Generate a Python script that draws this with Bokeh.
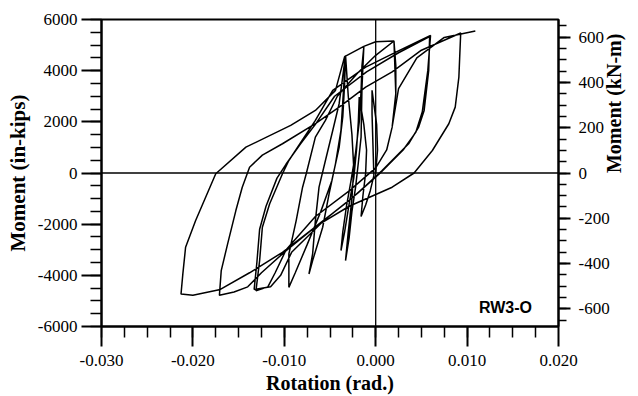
import math
from bokeh.plotting import figure
from bokeh.models import Range1d, LinearAxis, FixedTicker, CustomJSTickFormatter, Span, Label
from bokeh.embed import file_html
from bokeh.resources import INLINE

# ---- data: rotation (rad) and moment (in-kips), cycle by cycle ----
rot_c1 = [0.0, 0.0002, 0.0001, -0.0002, -0.0004, -0.0004, -0.0003, -0.0002, -0.0006, -0.0011, -0.0016,
          -0.0014, -0.0011, -0.0010, -0.0013, -0.0018]
mom_c1 = [0, 900, 1900, 2700, 3230, 2300, 1100, -100, -700, -1250, -1700,
          -900, 0, 900, 1900, 2970]

rot_c2 = [-0.0019, -0.0021, -0.0024, -0.0029, -0.0034, -0.0038,
          -0.0036, -0.0032, -0.0027, -0.0022, -0.0018, -0.0016, -0.0015, -0.0013]
mom_c2 = [2000, 900, -200, -1200, -2300, -3030,
          -2300, -1300, -300, 800, 2000, 3200, 4200, 4925]

rot_c3 = [-0.0015, -0.0016, -0.0019, -0.0022, -0.0026, -0.0029, -0.0033,
          -0.0030, -0.0026, -0.0024, -0.0026, -0.0030, -0.0033]
mom_c3 = [3358, 1400, 400, -555, -1500, -2512, -3425,
          -2300, -1000, 200, 1500, 3000, 4600]

rot_c4 = [-0.0035, -0.0038, -0.0044, -0.0051, -0.0058, -0.0069, -0.0073,
          -0.0069, -0.0066, -0.0062, -0.0055, -0.0047, -0.0040, -0.0033]
mom_c4 = [3358, 1663, 360, -815, -2120, -3425, -3945,
          -3160, -1860, -555, 489, 1663, 2708, 4600]

rot_c5 = [-0.0034, -0.0036, -0.0040, -0.0048, -0.0060, -0.0075, -0.0088, -0.0095,
          -0.0095, -0.0087, -0.0080, -0.0076, -0.0066, -0.0055, -0.0042, -0.0020, 0.0000, 0.0020]
mom_c5 = [3500, 2200, 1000, -300, -1500, -2800, -3900, -4470,
          -3160, -1860, -555, -31, 1400, 2055, 3000, 3900, 4600, 5160]

rot_c6 = [0.0022, 0.0022, 0.0018, 0.0012, 0.0000, -0.0029, -0.0066, -0.0098, -0.0110, -0.0118, -0.0131,
          -0.0127, -0.0124, -0.0116, -0.0102, -0.0095, -0.0080, -0.0066, -0.0047, -0.0011, 0.0026, 0.0060]
mom_c6 = [4200, 3100, 1793, 900, 200, -700, -1700, -3000, -3900, -4450, -4600,
          -3425, -2120, -1205, -31, 489, 1300, 2055, 3230, 4140, 4795, 5380]

rot_c6b = [0.0057, 0.0051, 0.0044, 0.0030, 0.0005, -0.0020, -0.0055, -0.0092, -0.0104, -0.0115, -0.0133,
           -0.0130, -0.0127, -0.0120, -0.0108, -0.0098, -0.0082, -0.0066, -0.0045, -0.0010, 0.0025, 0.0059]
mom_c6b = [4000, 2400, 1600, 900, 0, -800, -1800, -3100, -4000, -4450, -4550,
           -3500, -2200, -1300, -200, 350, 1150, 1900, 3000, 3950, 4700, 5330]

rot_c7 = [0.0058, 0.0053, 0.0047, 0.0036, 0.0007, -0.0011, -0.0029, -0.0062, -0.0098, -0.0125, -0.0140, -0.0155, -0.0171,
          -0.0169, -0.0162, -0.0153, -0.0146, -0.0138, -0.0124, -0.0102, -0.0066, -0.0040, -0.0011, 0.0018, 0.0050, 0.0093]
mom_c7 = [4010, 2446, 1793, 1143, 98, -500, -1076, -1990, -3033, -3900, -4450, -4650, -4780,
          -3815, -2770, -1468, -555, 227, 700, 1143, 1926, 2575, 3358, 3950, 4800, 5470]

rot_c8 = [0.0091, 0.0087, 0.0080, 0.0062, 0.0042, 0.0018, -0.0029, -0.0066, -0.0102, -0.0138, -0.0170, -0.0200, -0.0213,
          -0.0211, -0.0208, -0.0197, -0.0175, -0.0142, -0.0093, -0.0066, -0.0044, -0.0034, -0.0013, 0.0000, 0.0020,
          0.0022, 0.0018, 0.0025, 0.0045, 0.0075, 0.0109]
mom_c8 = [3750, 2575, 1925, 880, 0, -555, -1300, -2100, -3100, -3900, -4550, -4780, -4730,
          -3945, -2904, -1859, -31, 1010, 1860, 2446, 3230, 4550, 4950, 5130, 5160,
          3100, 1800, 3300, 4500, 5300, 5550]

x_ticks = [-0.030, -0.020, -0.010, 0.000, 0.010, 0.020]
y_ticks = [-6000, -4000, -2000, 0, 2000, 4000, 6000]
knm_ticks = [-600, -400, -200, 0, 200, 400, 600]
INKIP_PER_KNM = 8.851

rotation = rot_c1 + rot_c2 + rot_c3 + rot_c4 + rot_c5 + rot_c6 + rot_c6b + rot_c7 + rot_c8
moment = mom_c1 + mom_c2 + mom_c3 + mom_c4 + mom_c5 + mom_c6 + mom_c6b + mom_c7 + mom_c8

SERIF = "Liberation Serif"

p = figure(width=638, height=396, x_range=Range1d(-0.03, 0.02), y_range=Range1d(-6000, 6000),
           output_backend="svg", toolbar_location=None,
           min_border_left=101, min_border_right=80, min_border_top=19, min_border_bottom=70)
p.extra_y_ranges = {"knm": Range1d(-6000 / INKIP_PER_KNM, 6000 / INKIP_PER_KNM)}
p.xgrid.visible = False
p.ygrid.visible = False
p.outline_line_color = "black"
p.outline_line_width = 2
p.background_fill_color = "white"
p.border_fill_color = "white"

def style_axis(ax, maj_out, min_out, standoff, label_size):
    ax.axis_line_color = "black"
    ax.axis_line_width = 2
    ax.major_tick_line_color = "black"
    ax.minor_tick_line_color = "black"
    ax.major_tick_line_width = 2
    ax.minor_tick_line_width = 1.5
    ax.major_tick_in = 0
    ax.minor_tick_in = 0
    ax.major_tick_out = maj_out
    ax.minor_tick_out = min_out
    ax.major_label_text_font = SERIF
    ax.major_label_text_font_size = "17px"
    ax.major_label_text_color = "black"
    ax.major_label_standoff = standoff
    ax.axis_label_text_font = SERIF
    ax.axis_label_text_font_style = "bold"
    ax.axis_label_text_font_size = label_size
    ax.axis_label_text_color = "black"

xa = p.xaxis[0]
xa.ticker = FixedTicker(ticks=x_ticks, minor_ticks=[-0.03 + 0.0025 * i for i in range(21)])
xa.formatter = CustomJSTickFormatter(code="return tick.toFixed(3);")
xa.axis_label = "Rotation (rad.)"
style_axis(xa, 20, 11, 8, "20px")
xa.major_label_text_line_height = 0.8
xa.axis_label_text_line_height = 0.8
xa.axis_label_standoff = 3

ya = p.yaxis[0]
ya.ticker = FixedTicker(ticks=y_ticks, minor_ticks=[-6000 + 500 * i for i in range(25)])
ya.formatter = CustomJSTickFormatter(code="return tick.toFixed(0);")
ya.axis_label = "Moment (in-kips)"
style_axis(ya, 20, 11, 4, "21px")
ya.axis_label_standoff = 5

ra = LinearAxis(y_range_name="knm", axis_label="Moment (kN-m)")
ra.ticker = FixedTicker(ticks=knm_ticks, minor_ticks=[-650 + 50 * i for i in range(27)])
ra.formatter = CustomJSTickFormatter(code="return tick.toFixed(0);")
style_axis(ra, 12, 8, 8, "20px")
ra.axis_label_standoff = 1
ra.axis_label_orientation = math.pi / 2
p.add_layout(ra, "right")

p.add_layout(Span(location=0, dimension="width", line_color="black", line_width=1.6))
p.add_layout(Span(location=0, dimension="height", line_color="black", line_width=1.3))

p.line(rotation, moment, line_color="black", line_width=1.5)

p.add_layout(Label(x=0.0113, y=-5580, text="RW3-O", text_font="Liberation Sans",
                   text_font_style="bold", text_font_size="16px", text_color="black"))

open("out.html", "w").write(file_html(p, INLINE))
